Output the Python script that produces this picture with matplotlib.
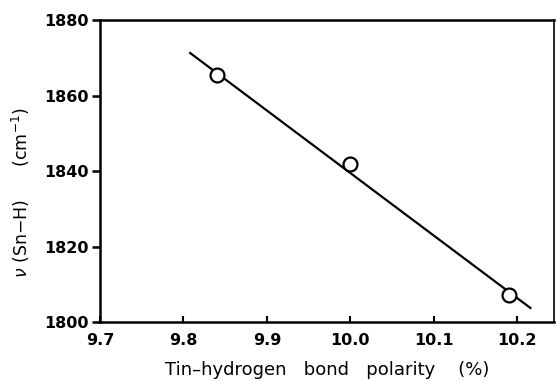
import matplotlib.pyplot as plt
import numpy as np

# measured points (open circles)
polarity = [9.84, 10.0, 10.19]
freq = [1865.5, 1842.0, 1807.2]

# fitted straight line, ends
line_x = [9.808, 10.216]
line_y = [1871.3, 1803.7]

xticks = [9.7, 9.8, 9.9, 10.0, 10.1, 10.2]
xticklabels = ['9.7', '9.8', '9.9', '10.0', '10.1', '10.2']
yticks = [1800, 1820, 1840, 1860, 1880]

fig = plt.figure(figsize=(5.56, 3.81), dpi=100)
ax = fig.add_axes([0.18, 0.155, 0.816, 0.792])

ax.plot(line_x, line_y, color='black', linewidth=1.6, zorder=2)
ax.plot(polarity, freq, linestyle='none', marker='o', markersize=10,
        markerfacecolor='white', markeredgecolor='black', markeredgewidth=1.6, zorder=3)

ax.set_xlim(9.7, 10.244)
ax.set_ylim(1800, 1880)
ax.set_xticks(xticks)
ax.set_xticklabels(xticklabels)
ax.set_yticks(yticks)

for s in ['left', 'top', 'bottom']:
    ax.spines[s].set_linewidth(1.8)
ax.spines['right'].set_linewidth(1.2)

ax.tick_params(axis='x', direction='in', length=4, width=1.5, labelsize=11.5, pad=8)
ax.tick_params(axis='y', direction='out', length=6, width=1.8, labelsize=11.5, pad=2)
for lab in ax.get_xticklabels() + ax.get_yticklabels():
    lab.set_fontweight('bold')

ax.set_xlabel('Tin\u2013hydrogen   bond   polarity    (%)', fontsize=13, labelpad=9)
ax.set_ylabel(r'$\nu$ (Sn$-$H)      (cm$^{-1}$)', fontsize=12.5)
ax.yaxis.set_label_coords(-0.15, 0.43)

fig.savefig('out.png', dpi=100)
